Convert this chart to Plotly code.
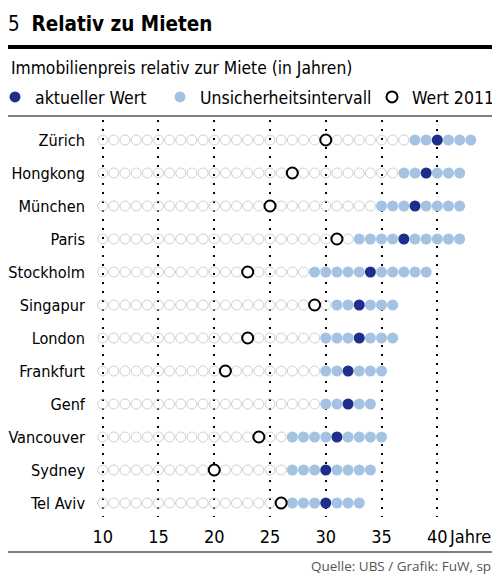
import plotly.graph_objects as go

# Daten (Immobilienpreis relativ zur Miete, in Jahren)
staedte = ["Zürich", "Hongkong", "München", "Paris", "Stockholm", "Singapur",
           "London", "Frankfurt", "Genf", "Vancouver", "Sydney", "Tel Aviv"]
aktueller_wert = [40, 39, 38, 37, 34, 33, 33, 32, 32, 31, 30, 30]
intervall_von = [38, 37, 35, 33, 29, 31, 30, 30, 30, 27, 27, 27]
intervall_bis = [43, 42, 42, 42, 39, 36, 36, 35, 34, 35, 34, 33]
wert_2011 = [30, 27, 25, 31, 23, 29, 23, 21, None, 24, 20, 26]
achse_start = 10
tick_werte = [10, 15, 20, 25, 30, 35, 40]

FONT = "DejaVu Sans Condensed, DejaVu Sans, sans-serif"
DUNKEL = "#1f2e8c"
HELL = "#a4c2e1"

# die Seite hat 8px Rand -> Figur etwas kleiner, Positionen in Bildschirm-Pixeln
OFF = 8
W, H = 500 - OFF, 576 - OFF
L, R, T, B = 92 - OFF, 0, 120 - OFF, 576 - 517
PW, PH = W - L - R, H - T - B

def px_x(s):
    return (s - OFF - L) / PW

def px_y(s):
    return 1 - (s - OFF - T) / PH

# Punkte aufbauen
leer_x, leer_y, hell_x, hell_y = [], [], [], []
for i, s in enumerate(staedte):
    for v in range(achse_start, intervall_von[i]):
        if v != wert_2011[i]:
            leer_x.append(v)
            leer_y.append(s)
    for v in range(intervall_von[i], intervall_bis[i] + 1):
        if v != aktueller_wert[i]:
            hell_x.append(v)
            hell_y.append(s)

alt_x = [w for w in wert_2011 if w is not None]
alt_y = [s for s, w in zip(staedte, wert_2011) if w is not None]

fig = go.Figure()
fig.add_trace(go.Scatter(x=leer_x, y=leer_y, mode="markers", showlegend=False,
                         marker=dict(size=10, color="rgba(255,255,255,0)",
                                     line=dict(color="#d0d0d0", width=1))))
fig.add_trace(go.Scatter(x=hell_x, y=hell_y, mode="markers", legend="legend2",
                         name="Unsicherheitsintervall",
                         marker=dict(size=11, color=HELL)))
fig.add_trace(go.Scatter(x=aktueller_wert, y=staedte, mode="markers", legend="legend",
                         name="aktueller Wert",
                         marker=dict(size=11, color=DUNKEL)))
fig.add_trace(go.Scatter(x=alt_x, y=alt_y, mode="markers", name="Wert 2011", legend="legend3",
                         marker=dict(size=11, color="white", line=dict(color="black", width=2))))

def leg(marker_x):
    # Symbol sitzt 20px rechts vom Legendenrand
    return dict(orientation="h", x=px_x(marker_x - 20), y=px_y(97), xanchor="left",
                yanchor="middle", font=dict(size=17.5), itemclick=False,
                bgcolor="rgba(0,0,0,0)", borderwidth=0)

fig.update_layout(
    width=W, height=H,
    margin=dict(l=L, r=R, t=T, b=B, autoexpand=False),
    paper_bgcolor="white", plot_bgcolor="white",
    font=dict(family=FONT, size=18, color="black"),
    showlegend=True,
    legend=leg(15), legend2=leg(180), legend3=leg(392),
    xaxis=dict(range=[9.04, 45.62], tickmode="array", tickvals=tick_werte,
               ticktext=[str(v) for v in tick_werte], showgrid=True,
               gridcolor="black", gridwidth=2, griddash="2px,7px",
               zeroline=False, showline=False, ticks="", ticklabelstandoff=7,
               tickfont=dict(size=18)),
    yaxis=dict(type="category", categoryorder="array", categoryarray=staedte,
               range=[11.424, -0.606], showgrid=False, zeroline=False,
               showline=False, ticks="", ticklabelstandoff=6,
               tickfont=dict(size=16.2)),
    title=dict(text="5  <b>Relativ zu Mieten</b>", x=0, xref="container", xanchor="left",
               y=1 - (24 - OFF) / H, yref="container", yanchor="middle",
               font=dict(size=20.5, family=FONT)),
)

fig.add_annotation(text="Immobilienpreis relativ zur Miete (in Jahren)", xref="paper", yref="paper",
                   x=px_x(9), y=px_y(68), xanchor="left", yanchor="middle", showarrow=False,
                   font=dict(size=17.3))
fig.add_annotation(text="Jahre", xref="x", yref="paper", x=40, xshift=10,
                   y=px_y(536), xanchor="left", yanchor="middle", showarrow=False,
                   font=dict(size=18))
fig.add_annotation(text="Quelle: UBS / Grafik: FuW, sp", xref="paper", yref="paper",
                   x=px_x(493), y=px_y(566), xanchor="right", yanchor="middle", showarrow=False,
                   font=dict(size=13.5, family="Open Sans, DejaVu Sans, sans-serif", color="#555555"))

# Trennlinien
for y_s, farbe, breite in [(47, "black", 4), (116, "#555555", 1.5), (552, "#555555", 1.5)]:
    fig.add_shape(type="line", xref="paper", yref="paper", x0=px_x(0), x1=px_x(500),
                  y0=px_y(y_s), y1=px_y(y_s), line=dict(color=farbe, width=breite))

fig.write_html("out.html")
